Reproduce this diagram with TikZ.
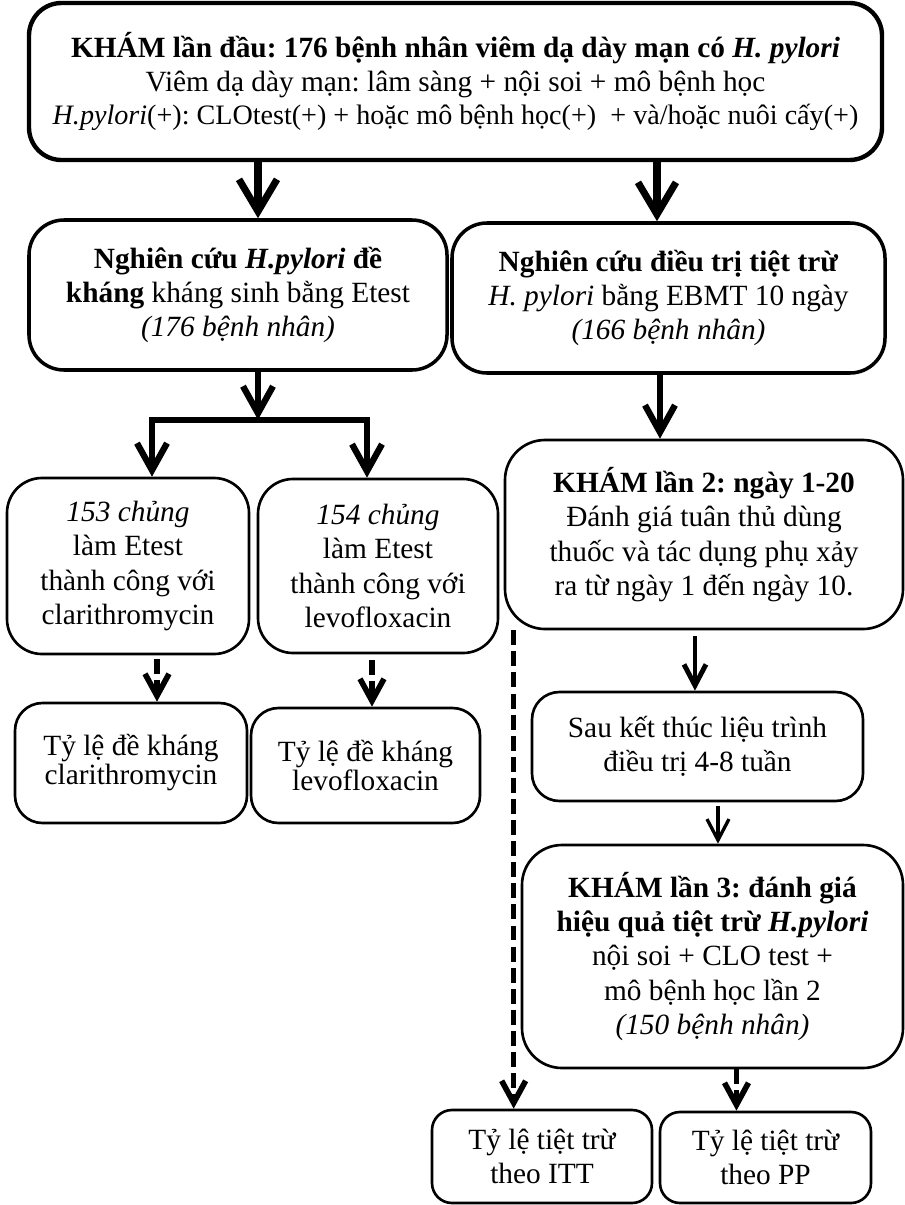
\documentclass[tikz,border=0pt]{standalone}
\usepackage{fontspec}
\setmainfont{Liberation Serif}
\usetikzlibrary{arrows.meta,calc}
\frenchspacing

\begin{document}
\begin{tikzpicture}[scale=0.2]
\tikzstyle{every node}+=[inner sep=0pt]
\tikzstyle{box}=[draw, rounded corners=0.7cm, align=center, line width=1.5pt, font=\fontsize{16.7}{19.5}\selectfont]
\tikzstyle{bigarrow}=[line width=4pt, -{Straight Barb[length=0.64cm,width=0.76cm]}]
\tikzstyle{midarrow}=[line width=3.6pt, -{Straight Barb[length=0.54cm,width=0.6cm]}]
\tikzstyle{thinarrow}=[line width=1.9pt, -{Straight Barb[length=0.42cm,width=0.44cm]}]
\tikzstyle{dasharrow}=[line width=3.2pt, dash pattern=on 8.5pt off 3.5pt, -{Straight Barb[length=0.44cm,width=0.48cm]}]
\useasboundingbox (0,0) rectangle (90.4,-120.5);

% first visit
\node (top) at (45.55,-8.15) [box, line width=2.5pt, rounded corners=0.65cm, minimum width=17.06cm, minimum height=3.14cm, font=\fontsize{16.7}{19}\selectfont] {\textbf{KHÁM lần đầu: 176 bệnh nhân viêm dạ dày mạn có \textit{H. pylori}}\\ Viêm dạ dày mạn: lâm sàng + nội soi + mô bệnh học\\ {\fontsize{16}{19}\selectfont\textit{H.pylori}(+): CLOtest(+) + hoặc mô bệnh học(+) \ + và/hoặc nuôi cấy(+)}};

% two studies
\node (lstudy) at (23.8,-29.5) [box, line width=2pt, minimum width=8.36cm, minimum height=3.0cm] {\textbf{Nghiên cứu \textit{H.pylori} đề}\\ \textbf{kháng} kháng sinh bằng Etest\\ \textit{(176 bệnh nhân)}};
\node (rstudy) at (66.85,-29.8) [box, line width=2pt, minimum width=8.66cm, minimum height=3.0cm] {\textbf{Nghiên cứu điều trị tiệt trừ}\\ \textit{H. pylori} bằng EBMT 10 ngày\\ \textit{(166 bệnh nhân)}};

% Etest
\node (cla) at (12.8,-56.6) [box, minimum width=4.84cm, minimum height=3.52cm] {\textit{153 chủng}\\ làm Etest\\ thành công với\\ clarithromycin};
\node (levo) at (37.8,-56.6) [box, minimum width=4.8cm, minimum height=3.48cm] {\textit{154 chủng}\\ làm Etest\\ thành công với\\ levofloxacin};
\node (rcla) at (13.1,-76.3) [box, rounded corners=0.55cm, minimum width=4.64cm, minimum height=2.4cm, font=\fontsize{16.7}{16.5}\selectfont] {Tỷ lệ đề kháng\\ clarithromycin};
\node (rlevo) at (36.55,-76.55) [box, rounded corners=0.55cm, minimum width=4.58cm, minimum height=2.3cm, font=\fontsize{16.7}{16.5}\selectfont] {Tỷ lệ đề kháng\\ levofloxacin};

% treatment
\node (kham2) at (70.4,-53.45) [box, rounded corners=0.8cm, minimum width=7.96cm, minimum height=3.78cm] {\textbf{KHÁM lần 2: ngày 1-20}\\ Đánh giá tuân thủ dùng\\ thuốc và tác dụng phụ xảy\\ ra từ ngày 1 đến ngày 10.};
\node (sau) at (69.75,-74.65) [box, rounded corners=0.55cm, minimum width=6.62cm, minimum height=2.18cm] {Sau kết thúc liệu trình\\ điều trị 4-8 tuần};
\node (kham3) at (71.25,-95.65) [box, rounded corners=0.8cm, minimum width=7.62cm, minimum height=4.46cm] {\textbf{KHÁM lần 3: đánh giá}\\ \textbf{hiệu quả tiệt trừ \textit{H.pylori}}\\ nội soi + CLO test +\\ mô bệnh học lần 2\\ \textit{(150 bệnh nhân)}};
\node (itt) at (54.2,-115.65) [box, rounded corners=0.4cm, minimum width=4.4cm, minimum height=1.86cm] {Tỷ lệ tiệt trừ\\ theo ITT};
\node (pp) at (76.55,-115.75) [box, rounded corners=0.4cm, minimum width=4.22cm, minimum height=1.82cm] {Tỷ lệ tiệt trừ\\ theo PP};

% connectors
\coordinate (s1) at ($(lstudy.north)+(2.0,0)$);
\coordinate (s2) at ($(rstudy.north)+(-1.15,0)$);
\draw [bigarrow] (s1 |- top.south) -- (s1);
\draw [bigarrow] (s2 |- top.south) -- (s2);
\coordinate (split) at ($(lstudy.south)+(2.0,-4.8)$);
\draw [midarrow] (split |- lstudy.south) -- (split);
\draw [midarrow] (split) -| ($(cla.north)+(2.4,0)$);
\draw [midarrow] (split) -| ($(levo.north)+(-1.1,0)$);
\coordinate (s3) at ($(rstudy.south)+(-0.85,0)$);
\draw [midarrow] (s3) -- (s3 |- kham2.north);
\coordinate (d1) at ($(cla.south)+(2.9,-0.4)$);
\coordinate (d2) at ($(levo.south)+(-0.6,-0.6)$);
\draw [dasharrow] (d1) -- (d1 |- rcla.north);
\draw [dasharrow] (d2) -- (d2 |- rlevo.north);
\coordinate (s4) at ($(kham2.south)+(-0.9,-0.6)$);
\draw [thinarrow, line width=2.8pt] (s4) -- (s4 |- sau.north);
\coordinate (s5) at ($(sau.south)+(2.05,-0.4)$);
\draw [thinarrow] (s5) -- (s5 |- kham3.north);
\coordinate (d3) at ($(kham2.south west)+(1.0,0)$);
\draw [dasharrow] (d3) -- (d3 |- itt.north);
\coordinate (d4) at ($(kham3.south)+(2.4,0)$);
\draw [dasharrow] (d4) -- (d4 |- pp.north);
\end{tikzpicture}
\end{document}
